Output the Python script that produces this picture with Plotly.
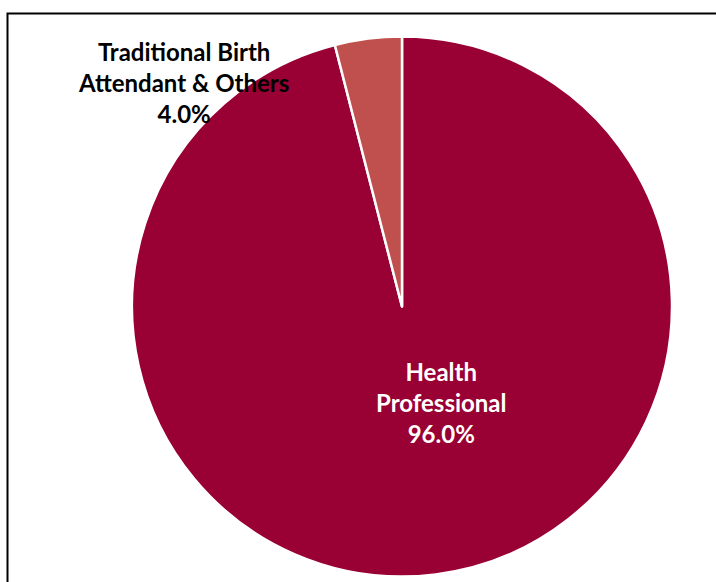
import plotly.graph_objects as go

labels = ["Health<br>Professional", "Traditional Birth<br>Attendant & Others"]
values = [96.0, 4.0]
colors = ["#990033", "#C0504D"]
text_colors = ["#FFFFFF", "#000000"]

W, H = 716, 582

fig = go.Figure(go.Pie(
    labels=labels,
    values=values,
    sort=False,
    direction="clockwise",
    rotation=0,
    marker=dict(colors=colors, line=dict(color="#FFFFFF", width=2.5)),
    textinfo="none",
    hoverinfo="label+percent",
    showlegend=False,
    domain=dict(x=[132 / W, 672 / W], y=[4 / H, 543 / H + 4 / H]),
))

label_pos = [(441, 402), (183, 83)]
for lab, v, tc, (px, py) in zip(labels, values, text_colors, label_pos):
    fig.add_annotation(
        x=px / W, y=1 - py / H, xref="paper", yref="paper",
        text=f"<b>{lab}<br>{v:.1f}%</b>",
        showarrow=False,
        font=dict(family="Lato, Open Sans, sans-serif", size=24, color=tc),
        align="center", xanchor="center", yanchor="middle",
    )

fig.add_shape(type="rect", xref="paper", yref="paper",
              x0=7.5 / W, x1=1.05, y0=-0.05, y1=1 - 13.5 / H,
              line=dict(color="#000000", width=2))

fig.update_layout(
    width=W, height=H,
    margin=dict(l=0, r=0, t=0, b=0),
    paper_bgcolor="#FFFFFF",
    plot_bgcolor="#FFFFFF",
)

fig.write_html("out.html", config={"displayModeBar": False},
               post_script="document.body.style.margin='0';")
